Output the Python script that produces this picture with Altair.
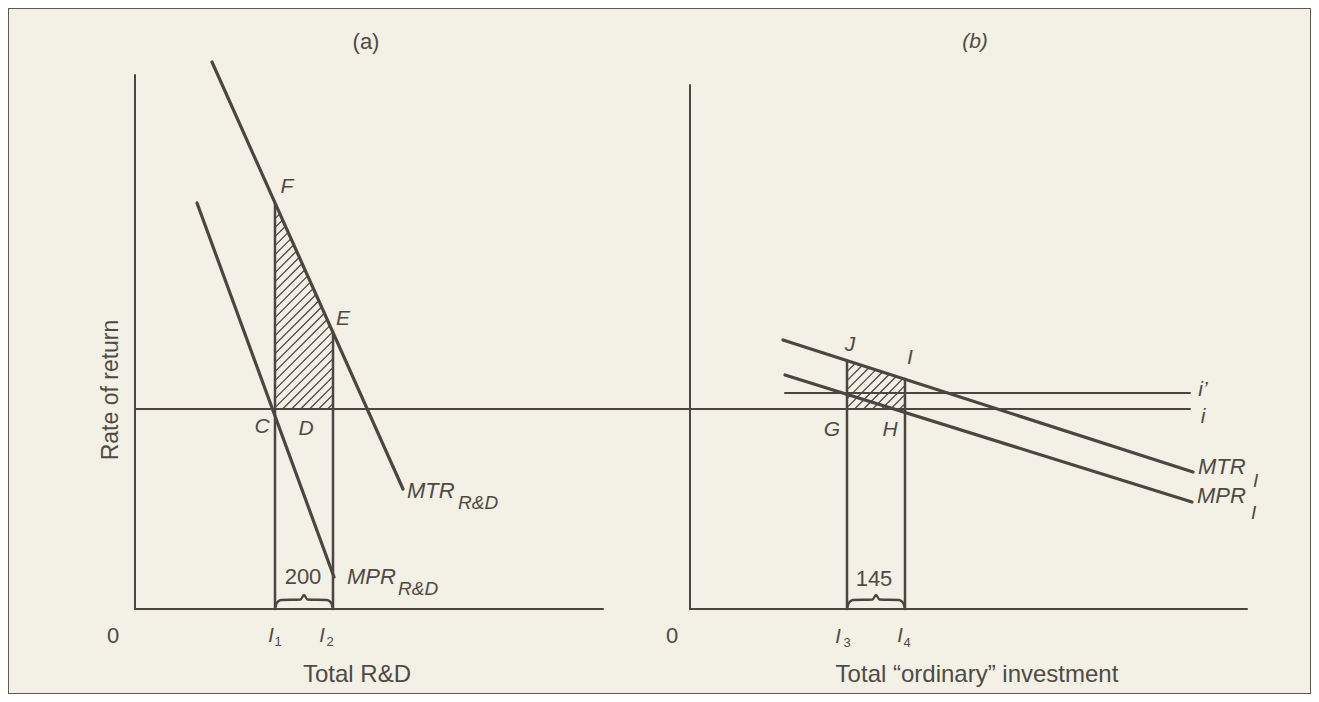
import altair as alt
import numpy as np
import pandas as pd

# ---------------- data (diagram units: quantity right of each origin, rate above the horizontal axis)
PANEL_B_ORIGIN = 555          # panel (b) origin, in panel (a) quantity units

RD_AXIS_TOP = 534
RD_AXIS_END = 468
INV_AXIS_TOP = 524
INV_AXIS_END = 557

MTR_RD_Q = [77, 268]
MTR_RD_R = [547, 120]
MPR_RD_Q = [62, 199]
MPR_RD_R = [406, 32]

MTR_I_Q = [93, 503]
MTR_I_R = [269, 137]
MPR_I_Q = [95, 502]
MPR_I_R = [234, 107]

RATE_I = 200
RATE_I_PRIME = 216
RATE_I_END_B = 500
RATE_I_PRIME_START_B = 95

RD_Q = [140, 198]      # I1, I2
RD_TOP = [406, 277]    # F, E
INV_Q = [157, 215]     # I3, I4
INV_TOP = [248, 230]   # J, I

B = PANEL_B_ORIGIN
LINE = "#4b4641"
TEXT = "#4f4a45"
FONT = "Liberation Sans"

XS = alt.Scale(domain=[-127, 1176], nice=False, zero=False)
YS = alt.Scale(domain=[-85, 601], nice=False, zero=False)


def seg(rows):
    return pd.DataFrame(rows, columns=["x", "y", "x2", "y2"])


axes = seg([
    (0, 0, 0, RD_AXIS_TOP), (0, 0, RD_AXIS_END, 0),
    (B, 0, B, INV_AXIS_TOP), (B, 0, B + INV_AXIS_END, 0),
])
rates = seg([
    (0, RATE_I, B + RATE_I_END_B, RATE_I),
    (B + RATE_I_PRIME_START_B, RATE_I_PRIME, B + RATE_I_END_B, RATE_I_PRIME),
])
verts = seg([
    (RD_Q[0], 0, RD_Q[0], RD_TOP[0]), (RD_Q[1], 0, RD_Q[1], RD_TOP[1]),
    (B + INV_Q[0], 0, B + INV_Q[0], INV_TOP[0]), (B + INV_Q[1], 0, B + INV_Q[1], INV_TOP[1]),
])
curves = seg([
    (MTR_RD_Q[0], MTR_RD_R[0], MTR_RD_Q[1], MTR_RD_R[1]),
    (MPR_RD_Q[0], MPR_RD_R[0], MPR_RD_Q[1], MPR_RD_R[1]),
    (B + MTR_I_Q[0], MTR_I_R[0], B + MTR_I_Q[1], MTR_I_R[1]),
    (B + MPR_I_Q[0], MPR_I_R[0], B + MPR_I_Q[1], MPR_I_R[1]),
])


def hatch(q1, q2, r0, tq, tr, step, offset):
    b = (tr[1] - tr[0]) / (tq[1] - tq[0])
    a = tr[0] - b * tq[0]
    cmin = r0 - q2
    cmax = a + b * q1 - q1
    rows = []
    for c in np.arange(cmin + step * 0.6, cmax, step):
        qs = max(q1, r0 - c)
        qe = min(q2, (a - c) / (1 - b))
        if qe - qs > 0.5:
            rows.append((offset + qs, qs + c, offset + qe, qe + c))
    return rows


hatches = seg(
    hatch(RD_Q[0], RD_Q[1], RATE_I, MTR_RD_Q, MTR_RD_R, 9, 0)
    + hatch(INV_Q[0], INV_Q[1], RATE_I, MTR_I_Q, MTR_I_R, 9, B)
)

BRACE_T = [0, 0.03, 0.1, 0.44, 0.5, 0.56, 0.9, 0.97, 1]
BRACE_H = [0, 6, 9, 9.5, 14, 9.5, 9, 6, 0]
brace_rows = []
for k, (q1, q2) in enumerate([(RD_Q[0], RD_Q[1]), (B + INV_Q[0], B + INV_Q[1])]):
    for t, h in zip(BRACE_T, BRACE_H):
        brace_rows.append(dict(id=k, x=q1 + t * (q2 - q1), y=h))
braces = pd.DataFrame(brace_rows)


def rule_layer(df, width):
    return alt.Chart(df).mark_rule(color=LINE, strokeWidth=width, strokeCap="round").encode(
        x=alt.X("x:Q", scale=XS, axis=None),
        y=alt.Y("y:Q", scale=YS, axis=None),
        x2="x2:Q", y2="y2:Q",
    )


def text_layer(rows, size, style="normal", align="center", angle=0):
    df = pd.DataFrame(rows, columns=["x", "y", "t"])
    kw = dict(font=FONT, fontSize=size, fontStyle=style, align=align,
              baseline="middle", color=TEXT)
    if angle:
        kw["angle"] = angle
    return alt.Chart(df).mark_text(**kw).encode(
        x=alt.X("x:Q", scale=XS, axis=None),
        y=alt.Y("y:Q", scale=YS, axis=None),
        text="t:N",
    )


normal_texts = text_layer([
    (231, 567, "(a)"), (-22, -27, "0"), (537, -27, "0"),
    (168, 32, "200"), (739, 30, "145"),
], 22)
titles = text_layer([
    (222, -66, "Total R&D"), (842, -66, "Total \u201cordinary\u201d investment"),
], 24)
italic_pts = text_layer([
    (840, 567, "(b)"),
    (152, 422, "F"), (208, 290, "E"), (127, 182, "C"), (171, 180, "D"),
    (715, 264, "J"), (775, 251, "I"), (697, 179, "G"), (755, 179, "H"),
    (1068, 219, "i\u2019"), (1068, 192, "i"),
], 21, "italic")
curve_names = text_layer([
    (272, 118, "MTR"), (212, 32, "MPR"), (1063, 142, "MTR"), (1062, 113, "MPR"),
], 22, "italic", "left")
curve_subs = text_layer([
    (323, 106, "R&D"), (263, 20, "R&D"), (1118, 128, "I"), (1116, 96, "I"),
], 19, "italic", "left")
axis_i = text_layer([
    (136, -27, "I"), (187, -27, "I"), (703, -28, "I"), (765, -27, "I"),
], 20, "italic")
axis_sub = text_layer([
    (143, -33, "1"), (195, -33, "2"), (712, -34, "3"), (772, -34, "4"),
], 13)
ylabel = text_layer([(-24, 219, "Rate of return")], 23, angle=270)

brace_layer = alt.Chart(braces).mark_line(color=LINE, strokeWidth=2.4, interpolate="monotone").encode(
    x=alt.X("x:Q", scale=XS, axis=None),
    y=alt.Y("y:Q", scale=YS, axis=None),
    detail="id:N",
)

chart = alt.layer(
    rule_layer(hatches, 1.3),
    rule_layer(axes, 2),
    rule_layer(rates, 2),
    rule_layer(verts, 2.5),
    rule_layer(curves, 3.2),
    brace_layer,
    normal_texts, titles, italic_pts, curve_names, curve_subs, axis_i, axis_sub, ylabel,
).properties(
    width=1303, height=686, padding=0,
    autosize=alt.AutoSizeParams(type="none"),
).configure(background="#f3f0e6").configure_view(stroke="#5e5953", strokeWidth=2)

chart.save("out.html", embed_options={"renderer": "svg", "actions": False})
